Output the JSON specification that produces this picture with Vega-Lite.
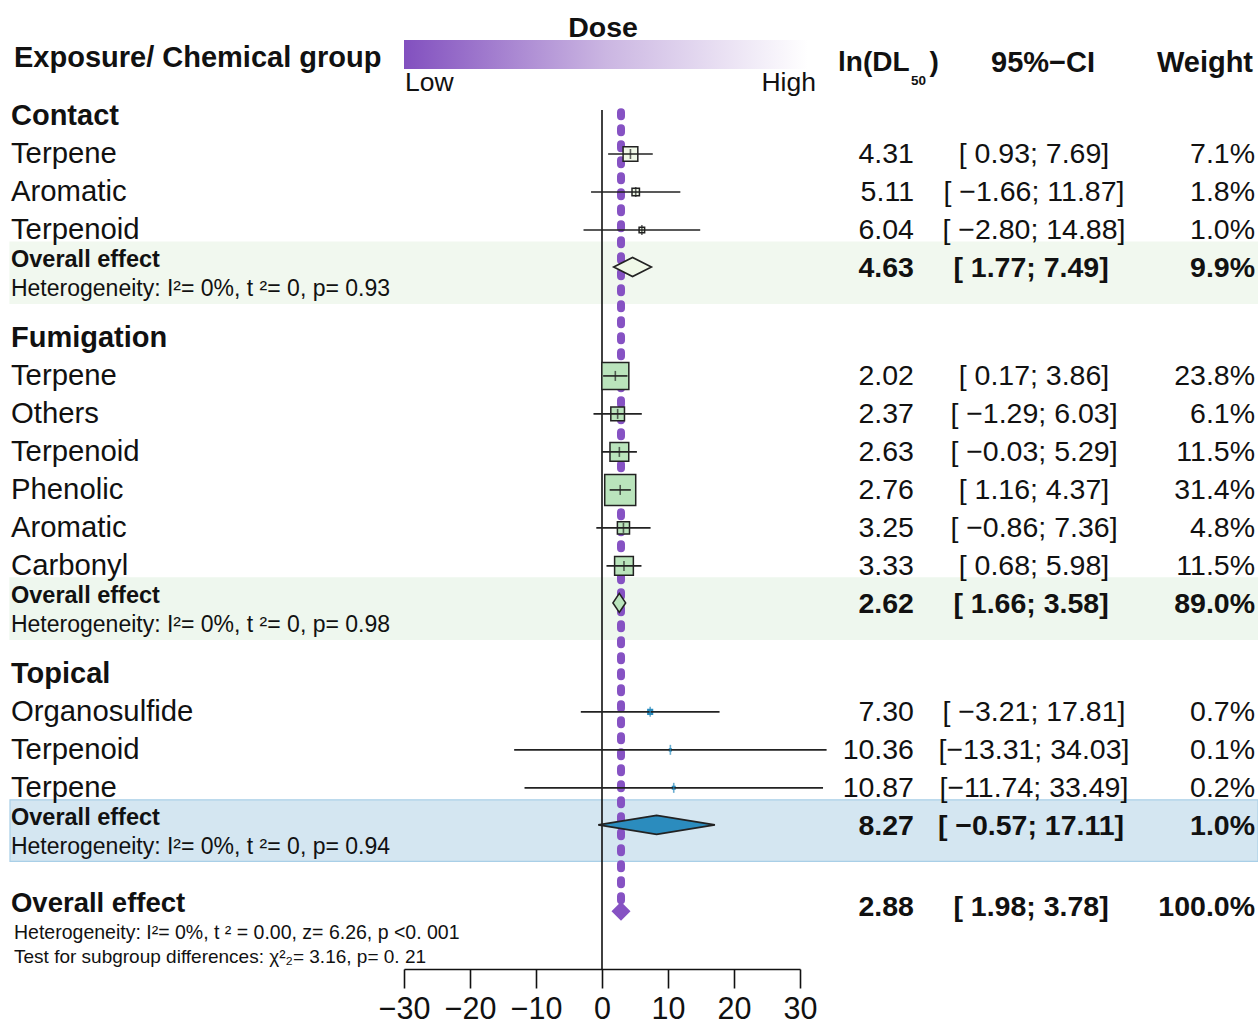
{
  "$schema": "https://vega.github.io/schema/vega-lite/v6.json",
  "width": 1258,
  "height": 969,
  "padding": {"left": 0, "top": 0, "right": 0, "bottom": 54},
  "autosize": {"type": "none"},
  "background": "white",
  "config": {
    "view": {"stroke": null},
    "font": "Liberation Sans",
    "text": {"font": "Liberation Sans", "color": "#111111"},
    "axisY": {"disable": true},
    "axisX": {
      "domainColor": "#111111", "domainWidth": 1.6, "tickColor": "#111111", "tickWidth": 1.6,
      "tickSize": 19, "labelFontSize": 30.5, "labelFont": "Liberation Sans", "labelColor": "#111111",
      "labelPadding": 6, "grid": false, "labelFlush": false
    }
  },
  "datasets": {
    "rows": [
      {"type": "header", "group": "Contact", "label": "Contact", "row": 0},
      {"type": "study", "group": "Contact", "label": "Terpene", "row": 1, "est": 4.31, "lower": 0.93, "upper": 7.69, "weight": 0.071, "ci": "[ 0.93; 7.69]"},
      {"type": "study", "group": "Contact", "label": "Aromatic", "row": 2, "est": 5.11, "lower": -1.66, "upper": 11.87, "weight": 0.018, "ci": "[ −1.66; 11.87]"},
      {"type": "study", "group": "Contact", "label": "Terpenoid", "row": 3, "est": 6.04, "lower": -2.80, "upper": 14.88, "weight": 0.010, "ci": "[ −2.80; 14.88]"},
      {"type": "sub", "group": "Contact", "label": "Overall effect", "row": 4, "est": 4.63, "lower": 1.77, "upper": 7.49, "weight": 0.099, "ci": "[ 1.77; 7.49]", "het": "Heterogeneity: I²= 0%, t  ²= 0,  p= 0.93"},
      {"type": "header", "group": "Fumigation", "label": "Fumigation", "row": 5.84},
      {"type": "study", "group": "Fumigation", "label": "Terpene", "row": 6.84, "est": 2.02, "lower": 0.17, "upper": 3.86, "weight": 0.238, "ci": "[ 0.17; 3.86]"},
      {"type": "study", "group": "Fumigation", "label": "Others", "row": 7.84, "est": 2.37, "lower": -1.29, "upper": 6.03, "weight": 0.061, "ci": "[ −1.29; 6.03]"},
      {"type": "study", "group": "Fumigation", "label": "Terpenoid", "row": 8.84, "est": 2.63, "lower": -0.03, "upper": 5.29, "weight": 0.115, "ci": "[ −0.03; 5.29]"},
      {"type": "study", "group": "Fumigation", "label": "Phenolic", "row": 9.84, "est": 2.76, "lower": 1.16, "upper": 4.37, "weight": 0.314, "ci": "[ 1.16; 4.37]"},
      {"type": "study", "group": "Fumigation", "label": "Aromatic", "row": 10.84, "est": 3.25, "lower": -0.86, "upper": 7.36, "weight": 0.048, "ci": "[ −0.86; 7.36]"},
      {"type": "study", "group": "Fumigation", "label": "Carbonyl", "row": 11.84, "est": 3.33, "lower": 0.68, "upper": 5.98, "weight": 0.115, "ci": "[ 0.68; 5.98]"},
      {"type": "sub", "group": "Fumigation", "label": "Overall effect", "row": 12.84, "est": 2.62, "lower": 1.66, "upper": 3.58, "weight": 0.890, "ci": "[ 1.66; 3.58]", "het": "Heterogeneity: I²= 0%, t  ²= 0,  p= 0.98"},
      {"type": "header", "group": "Topical", "label": "Topical", "row": 14.68},
      {"type": "study", "group": "Topical", "label": "Organosulfide", "row": 15.68, "est": 7.30, "lower": -3.21, "upper": 17.81, "weight": 0.007, "ci": "[ −3.21; 17.81]"},
      {"type": "study", "group": "Topical", "label": "Terpenoid", "row": 16.68, "est": 10.36, "lower": -13.31, "upper": 34.03, "weight": 0.001, "ci": "[−13.31; 34.03]"},
      {"type": "study", "group": "Topical", "label": "Terpene", "row": 17.68, "est": 10.87, "lower": -11.74, "upper": 33.49, "weight": 0.002, "ci": "[−11.74; 33.49]"},
      {"type": "sub", "group": "Topical", "label": "Overall effect", "row": 18.68, "est": 8.27, "lower": -0.57, "upper": 17.11, "weight": 0.010, "ci": "[ −0.57; 17.11]", "het": "Heterogeneity: I²= 0%, t  ²= 0,  p= 0.94"},
      {"type": "total", "group": "Overall", "label": "Overall effect", "row": 20.82, "est": 2.88, "lower": 1.98, "upper": 3.78, "weight": 1.0, "ci": "[ 1.98; 3.78]", "het": "Heterogeneity: I²=  0%, t ² = 0.00,  z= 6.26, p <0. 001", "test": "Test for subgroup differences: χ²₂=  3.16, p= 0. 21"}
    ]
  },
  "data": {"name": "rows"},
  "resolve": {"scale": {"color": "independent", "fill": "independent", "stroke": "independent", "shape": "independent", "size": "independent"}},
  "layer": [
    {
      "transform": [{"filter": "datum.type == 'sub'"}],
      "mark": {"type": "bar", "orient": "horizontal", "size": 61.5, "yOffset": 4.75, "strokeWidth": 1.2},
      "encoding": {
        "x": {"datum": -89.7, "type": "quantitative", "scale": {"domain": [-30, 30], "range": [404, 800], "nice": false, "zero": false, "padding": 0}, "axis": {"values": [-30, -20, -10, 0, 10, 20, 30], "title": null}},
        "x2": {"datum": 99.4},
        "y": {"field": "row", "type": "quantitative", "scale": {"domain": [-3.0526, 22.4474], "reverse": true, "nice": false, "zero": false, "padding": 0}, "axis": null},
        "color": {"field": "group", "type": "nominal", "scale": {"domain": ["Contact", "Fumigation", "Topical"], "range": ["#f1f8ef", "#eef7ee", "#d4e6f1"]}, "legend": null},
        "stroke": {"field": "group", "type": "nominal", "scale": {"domain": ["Contact", "Fumigation", "Topical"], "range": ["#f1f8ef", "#eef7ee", "#a9cfe7"]}, "legend": null}
      }
    },
    {
      "data": {"values": [{}]},
      "mark": {"type": "rule", "strokeWidth": 1.6, "color": "#111111"},
      "encoding": {
        "x": {"datum": 0, "type": "quantitative"},
        "y": {"datum": -0.158, "type": "quantitative"},
        "y2": {"datum": 22.447}
      }
    },
    {
      "transform": [{"filter": "datum.type == 'total'"}],
      "mark": {"type": "rule", "strokeWidth": 8, "strokeDash": [4, 12], "strokeCap": "round", "color": "#8652c3"},
      "encoding": {
        "x": {"field": "est", "type": "quantitative", "title": null},
        "y": {"datum": -0.1, "type": "quantitative"},
        "y2": {"datum": 20.75}
      }
    },
    {
      "transform": [{"filter": "datum.type == 'study'"}],
      "mark": {"type": "point", "shape": "square", "filled": true, "strokeWidth": 1.5, "opacity": 1},
      "encoding": {
        "x": {"field": "est", "type": "quantitative", "title": null},
        "y": {"field": "row", "type": "quantitative"},
        "size": {"field": "weight", "type": "quantitative", "scale": {"type": "linear", "domain": [0, 0.314], "range": [0, 961]}, "legend": null},
        "fill": {"field": "group", "type": "nominal", "scale": {"domain": ["Contact", "Fumigation", "Topical"], "range": ["#f0f9e8", "#bae4bc", "#2b8cbe"]}, "legend": null},
        "stroke": {"field": "group", "type": "nominal", "scale": {"domain": ["Contact", "Fumigation", "Topical"], "range": ["#222222", "#222222", "#2b8cbe"]}, "legend": null}
      }
    },
    {
      "transform": [{"filter": "datum.type == 'study'"}],
      "mark": {"type": "rule", "strokeWidth": 1.6, "color": "#222222"},
      "encoding": {
        "x": {"field": "lower", "type": "quantitative", "title": null},
        "x2": {"field": "upper"},
        "y": {"field": "row", "type": "quantitative"}
      }
    },
    {
      "transform": [{"filter": "datum.type == 'study'"}],
      "mark": {"type": "tick", "orient": "vertical", "size": 10, "thickness": 1.6},
      "encoding": {
        "x": {"field": "est", "type": "quantitative", "title": null},
        "y": {"field": "row", "type": "quantitative"},
        "color": {"field": "group", "type": "nominal", "scale": {"domain": ["Contact", "Fumigation", "Topical"], "range": ["#222222", "#222222", "#2b8cbe"]}, "legend": null}
      }
    },
    {
      "transform": [{"filter": "datum.type == 'sub'"}],
      "mark": {"type": "point", "filled": true, "size": 361, "strokeWidth": 1.6, "stroke": "#222222", "yOffset": -1, "opacity": 1},
      "encoding": {
        "x": {"field": "est", "type": "quantitative", "title": null},
        "y": {"field": "row", "type": "quantitative"},
        "shape": {"field": "group", "type": "nominal", "scale": {"domain": ["Contact", "Fumigation", "Topical"], "range": ["M-1.987,0L0,-1L1.987,0L0,1Z", "M-0.667,0L0,-1L0.667,0L0,1Z", "M-6.142,0L0,-1L6.142,0L0,1Z"]}, "legend": null},
        "fill": {"field": "group", "type": "nominal", "scale": {"domain": ["Contact", "Fumigation", "Topical"], "range": ["#f0f9e8", "#bae4bc", "#2b8cbe"]}, "legend": null}
      }
    },
    {
      "transform": [{"filter": "datum.type == 'total'"}],
      "mark": {"type": "point", "shape": "diamond", "filled": true, "size": 361, "color": "#8652c3", "yOffset": 4, "opacity": 1},
      "encoding": {
        "x": {"field": "est", "type": "quantitative", "title": null},
        "y": {"field": "row", "type": "quantitative"}
      }
    },
    {
      "transform": [{"filter": "datum.type == 'header'"}],
      "mark": {"type": "text", "align": "left", "baseline": "middle", "fontSize": 29, "fontWeight": "bold"},
      "encoding": {"x": {"datum": -89.55, "type": "quantitative"}, "y": {"field": "row", "type": "quantitative"}, "text": {"field": "label"}}
    },
    {
      "transform": [{"filter": "datum.type == 'study'"}],
      "mark": {"type": "text", "align": "left", "baseline": "middle", "fontSize": 29.3},
      "encoding": {"x": {"datum": -89.55, "type": "quantitative"}, "y": {"field": "row", "type": "quantitative"}, "text": {"field": "label"}}
    },
    {
      "transform": [{"filter": "datum.type == 'study'"}],
      "mark": {"type": "text", "align": "right", "baseline": "middle", "fontSize": 28.5},
      "encoding": {"x": {"datum": 47.27, "type": "quantitative"}, "y": {"field": "row", "type": "quantitative"}, "text": {"field": "est", "type": "quantitative", "format": ".2f"}}
    },
    {
      "transform": [{"filter": "datum.type == 'study'"}],
      "mark": {"type": "text", "align": "center", "baseline": "middle", "fontSize": 28.5},
      "encoding": {"x": {"datum": 65.45, "type": "quantitative"}, "y": {"field": "row", "type": "quantitative"}, "text": {"field": "ci"}}
    },
    {
      "transform": [{"filter": "datum.type == 'study'"}],
      "mark": {"type": "text", "align": "right", "baseline": "middle", "fontSize": 28.5},
      "encoding": {"x": {"datum": 98.94, "type": "quantitative"}, "y": {"field": "row", "type": "quantitative"}, "text": {"field": "weight", "type": "quantitative", "format": ".1%"}}
    },
    {
      "transform": [{"filter": "datum.type == 'sub'"}],
      "mark": {"type": "text", "align": "left", "baseline": "middle", "fontSize": 23.5, "fontWeight": "bold", "dy": -8},
      "encoding": {"x": {"datum": -89.55, "type": "quantitative"}, "y": {"field": "row", "type": "quantitative"}, "text": {"field": "label"}}
    },
    {
      "transform": [{"filter": "datum.type == 'sub'"}],
      "mark": {"type": "text", "align": "left", "baseline": "middle", "fontSize": 23, "dy": 21},
      "encoding": {"x": {"datum": -89.55, "type": "quantitative"}, "y": {"field": "row", "type": "quantitative"}, "text": {"field": "het"}}
    },
    {
      "transform": [{"filter": "datum.type == 'sub' || datum.type == 'total'"}],
      "mark": {"type": "text", "align": "right", "baseline": "middle", "fontSize": 28.5, "fontWeight": "bold"},
      "encoding": {"x": {"datum": 47.27, "type": "quantitative"}, "y": {"field": "row", "type": "quantitative"}, "text": {"field": "est", "type": "quantitative", "format": ".2f"}}
    },
    {
      "transform": [{"filter": "datum.type == 'sub' || datum.type == 'total'"}],
      "mark": {"type": "text", "align": "center", "baseline": "middle", "fontSize": 28.5, "fontWeight": "bold"},
      "encoding": {"x": {"datum": 65.0, "type": "quantitative"}, "y": {"field": "row", "type": "quantitative"}, "text": {"field": "ci"}}
    },
    {
      "transform": [{"filter": "datum.type == 'sub' || datum.type == 'total'"}],
      "mark": {"type": "text", "align": "right", "baseline": "middle", "fontSize": 28.5, "fontWeight": "bold"},
      "encoding": {"x": {"datum": 98.94, "type": "quantitative"}, "y": {"field": "row", "type": "quantitative"}, "text": {"field": "weight", "type": "quantitative", "format": ".1%"}}
    },
    {
      "transform": [{"filter": "datum.type == 'total'"}],
      "mark": {"type": "text", "align": "left", "baseline": "middle", "fontSize": 27.5, "fontWeight": "bold", "dy": -3},
      "encoding": {"x": {"datum": -89.55, "type": "quantitative"}, "y": {"field": "row", "type": "quantitative"}, "text": {"field": "label"}}
    },
    {
      "transform": [{"filter": "datum.type == 'total'"}],
      "mark": {"type": "text", "align": "left", "baseline": "middle", "fontSize": 19.5, "dy": 26},
      "encoding": {"x": {"datum": -89.09, "type": "quantitative"}, "y": {"field": "row", "type": "quantitative"}, "text": {"field": "het"}}
    },
    {
      "transform": [{"filter": "datum.type == 'total'"}],
      "mark": {"type": "text", "align": "left", "baseline": "middle", "fontSize": 19, "dy": 50},
      "encoding": {"x": {"datum": -89.09, "type": "quantitative"}, "y": {"field": "row", "type": "quantitative"}, "text": {"field": "test"}}
    },
    {
      "data": {"values": [{}]},
      "mark": {"type": "rect", "fill": {"gradient": "linear", "x1": 0, "y1": 0, "x2": 1, "y2": 0, "stops": [{"offset": 0, "color": "#8250bf"}, {"offset": 0.5, "color": "#cbb6e2"}, {"offset": 1, "color": "#ffffff"}]}},
      "encoding": {"x": {"datum": -30, "type": "quantitative"}, "x2": {"datum": 31.2}, "y": {"datum": -2.0, "type": "quantitative"}, "y2": {"datum": -1.237}}
    },
    {
      "data": {"values": [{}]},
      "mark": {"type": "text", "text": "Exposure/ Chemical group", "align": "left", "baseline": "middle", "fontSize": 29, "fontWeight": "bold"},
      "encoding": {"x": {"datum": -89.09, "type": "quantitative"}, "y": {"datum": -1.526, "type": "quantitative"}}
    },
    {
      "data": {"values": [{}]},
      "mark": {"type": "text", "text": "Dose", "align": "center", "baseline": "middle", "fontSize": 28.5, "fontWeight": "bold"},
      "encoding": {"x": {"datum": 0.15, "type": "quantitative"}, "y": {"datum": -2.316, "type": "quantitative"}}
    },
    {
      "data": {"values": [{}]},
      "mark": {"type": "text", "text": "Low", "align": "left", "baseline": "middle", "fontSize": 26.5},
      "encoding": {"x": {"datum": -29.85, "type": "quantitative"}, "y": {"datum": -0.868, "type": "quantitative"}}
    },
    {
      "data": {"values": [{}]},
      "mark": {"type": "text", "text": "High", "align": "right", "baseline": "middle", "fontSize": 26.5},
      "encoding": {"x": {"datum": 32.42, "type": "quantitative"}, "y": {"datum": -0.868, "type": "quantitative"}}
    },
    {
      "data": {"values": [{}]},
      "mark": {"type": "text", "text": "ln(DL", "align": "left", "baseline": "middle", "fontSize": 28, "fontWeight": "bold"},
      "encoding": {"x": {"datum": 35.76, "type": "quantitative"}, "y": {"datum": -1.395, "type": "quantitative"}}
    },
    {
      "data": {"values": [{}]},
      "mark": {"type": "text", "text": "50", "align": "left", "baseline": "middle", "fontSize": 13.5, "fontWeight": "bold"},
      "encoding": {"x": {"datum": 46.82, "type": "quantitative"}, "y": {"datum": -0.921, "type": "quantitative"}}
    },
    {
      "data": {"values": [{}]},
      "mark": {"type": "text", "text": ")", "align": "left", "baseline": "middle", "fontSize": 28, "fontWeight": "bold"},
      "encoding": {"x": {"datum": 49.62, "type": "quantitative"}, "y": {"datum": -1.395, "type": "quantitative"}}
    },
    {
      "data": {"values": [{}]},
      "mark": {"type": "text", "text": "95%−CI", "align": "center", "baseline": "middle", "fontSize": 29, "fontWeight": "bold"},
      "encoding": {"x": {"datum": 66.82, "type": "quantitative"}, "y": {"datum": -1.395, "type": "quantitative"}}
    },
    {
      "data": {"values": [{}]},
      "mark": {"type": "text", "text": "Weight", "align": "right", "baseline": "middle", "fontSize": 29, "fontWeight": "bold"},
      "encoding": {"x": {"datum": 98.64, "type": "quantitative"}, "y": {"datum": -1.395, "type": "quantitative"}}
    }
  ]
}
